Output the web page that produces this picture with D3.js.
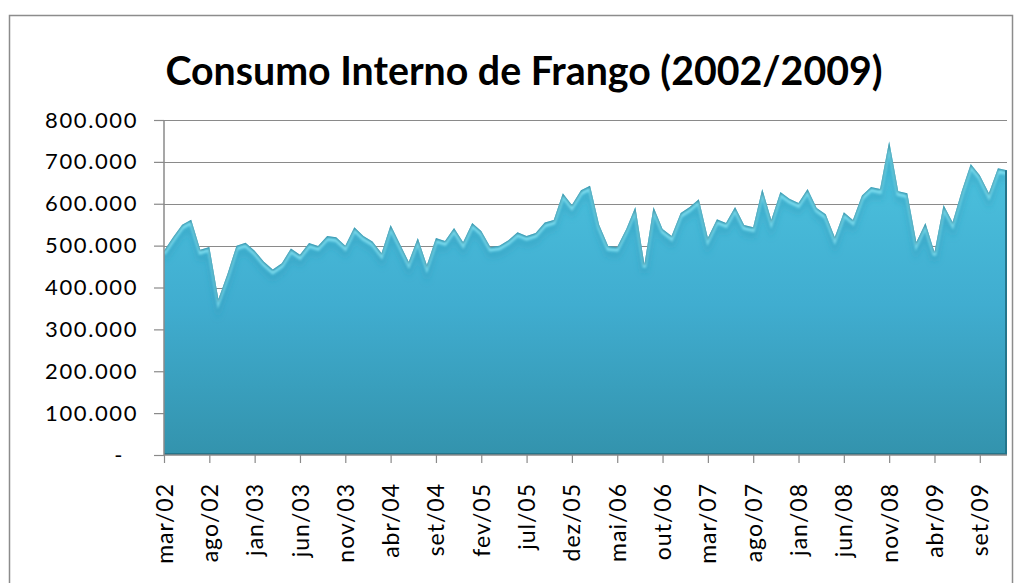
<!DOCTYPE html>
<html>
<head>
<meta charset="utf-8">
<script src="https://cdn.jsdelivr.net/npm/d3@7"></script>
<style>
  body { margin: 0; background: #fff; }
  svg { display: block; }
  text { font-family: Lato, "Open Sans", sans-serif; fill: #000; }
</style>
</head>
<body>
<div id="chart"></div>
<script>
// meses mar/02 .. dez/09
var monthNames = ["jan", "fev", "mar", "abr", "mai", "jun", "jul", "ago", "set", "out", "nov", "dez"];
var startYear = 2002, startMonth = 2;

// consumo interno (toneladas)
var consumo = [
    488000, 520000, 550000, 562000, 490000, 497000, 372000, 432000, 500000, 507000,
    488000, 462000, 443000, 458000, 493000, 478000, 506000, 499000, 523000, 520000,
    500000, 544000, 523000, 510000, 482000, 549000, 505000, 461000, 518000, 453000,
    518000, 511000, 542000, 508000, 554000, 535000, 497000, 500000, 513000, 532000,
    523000, 530000, 555000, 561000, 625000, 597000, 632000, 643000, 550000, 499000,
    497000, 540000, 592000, 455000, 592000, 540000, 523000, 578000, 592000, 611000,
    518000, 563000, 554000, 592000, 549000, 544000, 635000, 561000, 628000, 612000,
    602000, 635000, 590000, 575000, 520000, 580000, 561000, 620000, 640000, 635000,
    749000, 630000, 625000, 508000, 554000, 484000, 597000, 556000, 630000, 695000,
    668000, 625000, 685000, 680000
];

var yTicks = [0, 100000, 200000, 300000, 400000, 500000, 600000, 700000, 800000];

var categories = consumo.map(function (d, i) {
    var m = startMonth + i;
    var yy = (startYear + Math.floor(m / 12)) % 100;
    return monthNames[m % 12] + "/" + (yy < 10 ? "0" + yy : yy);
});

var W = 1022, H = 583;
var pLeft = 164, pRight = 1007, pTop = 120, pBottom = 455;

var svg = d3.select("#chart").append("svg")
    .attr("width", W)
    .attr("height", H);

// moldura
svg.append("rect")
    .attr("x", 9.5).attr("y", 15.5)
    .attr("width", 1003).attr("height", 600)
    .attr("fill", "none")
    .attr("stroke", "#8c8c8c")
    .attr("stroke-width", 1.5);

var x = d3.scaleLinear().domain([0, consumo.length - 1]).range([pLeft, pRight]);
var y = d3.scaleLinear().domain([0, 800000]).range([pBottom, pTop]);

var br = d3.formatLocale({ decimal: ",", thousands: ".", grouping: [3], currency: ["R$", ""] });
var fmt = br.format(",.0f");

// gradientes e filtros
var defs = svg.append("defs");
var grad = defs.append("linearGradient")
    .attr("id", "fill")
    .attr("gradientUnits", "userSpaceOnUse")
    .attr("x1", 0).attr("x2", 0)
    .attr("y1", pTop).attr("y2", pBottom);
grad.append("stop").attr("offset", "0%").attr("stop-color", "#4fc7e1");
grad.append("stop").attr("offset", "55%").attr("stop-color", "#40add0");
grad.append("stop").attr("offset", "100%").attr("stop-color", "#3393ad");

defs.append("filter").attr("id", "blur")
    .append("feGaussianBlur").attr("stdDeviation", 1.2);
defs.append("filter").attr("id", "blur2")
    .append("feGaussianBlur").attr("stdDeviation", 3);

var area = d3.area()
    .x(function (d, i) { return x(i); })
    .y0(y(0))
    .y1(function (d) { return y(d); });

var line = d3.line()
    .x(function (d, i) { return x(i); })
    .y(function (d) { return y(d); });

defs.append("clipPath").attr("id", "areaClip")
    .append("path").attr("d", area(consumo));

// grade
svg.append("g")
    .selectAll("line")
    .data(yTicks.slice(1))
    .enter()
    .append("line")
    .attr("x1", pLeft).attr("x2", pRight)
    .attr("y1", function (d) { return Math.round(y(d)) + 0.5; })
    .attr("y2", function (d) { return Math.round(y(d)) + 0.5; })
    .attr("stroke", "#8a8a8a")
    .attr("stroke-width", 1.2);

// area
svg.append("path")
    .attr("d", area(consumo))
    .attr("fill", "url(#fill)");

// bisel: sombra e brilho recortados na area
var bevel = svg.append("g").attr("clip-path", "url(#areaClip)");
bevel.append("path")
    .attr("d", line(consumo))
    .attr("transform", "translate(0,8)")
    .attr("fill", "none")
    .attr("stroke", "#2f93b2")
    .attr("stroke-opacity", 0.35)
    .attr("stroke-width", 6)
    .attr("filter", "url(#blur2)");
bevel.append("path")
    .attr("d", line(consumo))
    .attr("transform", "translate(0,3)")
    .attr("fill", "none")
    .attr("stroke", "#86e4f4")
    .attr("stroke-width", 3.5)
    .attr("stroke-opacity", 0.8)
    .attr("filter", "url(#blur)");
bevel.append("path")
    .attr("d", line(consumo))
    .attr("fill", "none")
    .attr("stroke", "#1d5e70")
    .attr("stroke-width", 2)
    .attr("stroke-opacity", 0.55)
    .attr("filter", "url(#blur)");

// borda escura embaixo e a direita
svg.append("path")
    .attr("d", "M" + x(0) + "," + (y(0) - 1) + "H" + (x(consumo.length - 1) - 1) + "V" + y(consumo[consumo.length - 1]))
    .attr("fill", "none")
    .attr("stroke", "#24758b")
    .attr("stroke-width", 2);

// eixo y
var yAxis = svg.append("g")
    .attr("transform", "translate(" + pLeft + ",0)")
    .call(d3.axisLeft(y).tickValues(yTicks).tickSize(10).tickPadding(16)
        .tickFormat(function (d) { return d === 0 ? "-" : fmt(d); }));
yAxis.select(".domain").attr("stroke", "#8a8a8a").attr("stroke-width", 1.5)
    .attr("d", "M0," + pBottom + "V" + pTop);
yAxis.selectAll(".tick line").attr("stroke", "#8a8a8a").attr("stroke-width", 1.2);
yAxis.selectAll(".tick text")
    .style("font-family", "Lato, sans-serif")
    .style("font-size", "22px")
    .style("letter-spacing", "1.6px")
    .attr("fill", "#111");
yAxis.selectAll(".tick")
    .filter(function (d) { return d === 0; })
    .select("text").attr("x", -40);

// eixo x
var tickIdx = d3.range(0, consumo.length, 5);
var xAxis = svg.append("g")
    .attr("transform", "translate(0," + pBottom + ")")
    .call(d3.axisBottom(x).tickValues(tickIdx).tickSize(8).tickSizeOuter(0)
        .tickFormat(function (d) { return categories[d]; }));
xAxis.select(".domain").attr("stroke", "#8a8a8a").attr("stroke-width", 1.5)
    .attr("d", "M" + pLeft + ",0H" + pRight);
xAxis.selectAll(".tick line").attr("stroke", "#8a8a8a").attr("stroke-width", 1.2);
xAxis.selectAll(".tick text")
    .style("font-family", "Lato, sans-serif")
    .style("font-size", "23px")
    .style("letter-spacing", "1px")
    .attr("fill", "#111")
    .attr("text-anchor", "end")
    .attr("transform", "rotate(-90)")
    .attr("x", -28)
    .attr("y", 0)
    .attr("dy", "0.35em");

// titulo
var title = svg.append("text")
    .attr("x", 524)
    .attr("y", 85)
    .attr("text-anchor", "middle")
    .style("font-family", "Lato, sans-serif")
    .style("font-weight", "bold")
    .style("font-size", "36px")
    .text("Consumo Interno de Frango (2002/2009)");
var tw = title.node().getComputedTextLength();
title.style("font-size", (36 * 717 / tw).toFixed(1) + "px");
</script>
</body>
</html>
